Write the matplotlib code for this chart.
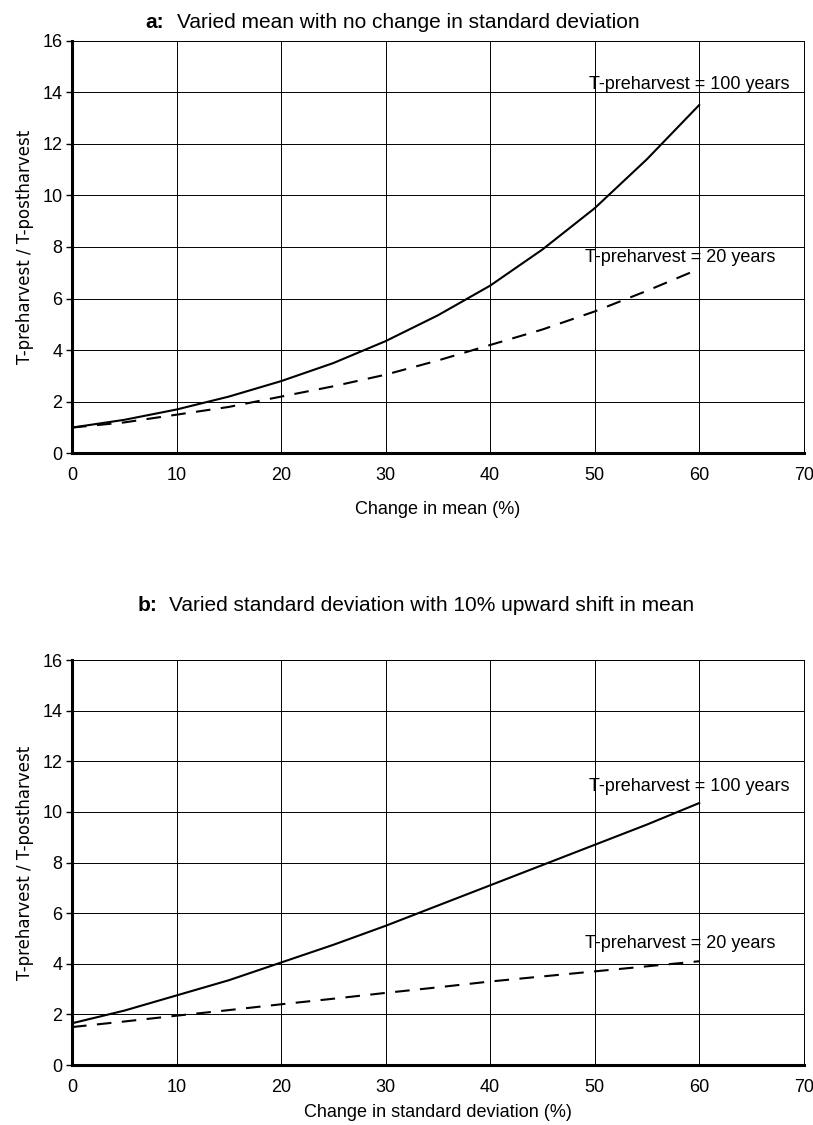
import matplotlib
matplotlib.use('Agg')
import matplotlib.pyplot as plt

plt.rcParams['font.family'] = ['Liberation Sans', 'DejaVu Sans']

# Data
change_pct = [0, 5, 10, 15, 20, 25, 30, 35, 40, 45, 50, 55, 60]

# panel a: varied mean, no change in SD
mean_100yr = [1.0, 1.3, 1.7, 2.2, 2.8, 3.5, 4.35, 5.35, 6.5, 7.9, 9.5, 11.4, 13.5]
mean_20yr = [1.0, 1.2, 1.5, 1.8, 2.2, 2.6, 3.05, 3.6, 4.2, 4.8, 5.5, 6.3, 7.15]

# panel b: varied SD, 10% upward shift in mean
sd_100yr = [1.65, 2.15, 2.75, 3.35, 4.05, 4.75, 5.5, 6.3, 7.1, 7.9, 8.7, 9.5, 10.35]
sd_20yr = [1.5, 1.72, 1.95, 2.17, 2.4, 2.62, 2.85, 3.07, 3.3, 3.5, 3.7, 3.9, 4.1]

x_ticks = [0, 10, 20, 30, 40, 50, 60, 70]
y_ticks = [0, 2, 4, 6, 8, 10, 12, 14, 16]

fig = plt.figure(figsize=(8.13, 11.25), dpi=100)
ax_a = fig.add_axes([0.0886, 0.597, 0.9, 0.367])
ax_b = fig.add_axes([0.0886, 0.0533, 0.9, 0.36])

panels = [
    (ax_a, mean_100yr, mean_20yr, 'Change in mean (%)', 14.3, 7.6),
    (ax_b, sd_100yr, sd_20yr, 'Change in standard deviation (%)', 11.0, 4.8),
]

for ax, solid, dashed, xlab, y100, y20 in panels:
    ax.plot(change_pct, solid, color='black', lw=1.5)
    ax.plot(change_pct, dashed, color='black', lw=1.5, ls=(0, (7, 5)))
    ax.set_xlim(0, 70)
    ax.set_ylim(0, 16)
    ax.set_xticks(x_ticks)
    ax.set_yticks(y_ticks)
    ax.grid(True, color='black', lw=0.7)
    ax.set_axisbelow(True)
    for side in ['top', 'right']:
        ax.spines[side].set_linewidth(0.7)
    for side in ['left', 'bottom']:
        ax.spines[side].set_linewidth(2.2)
    ax.tick_params(axis='y', length=4, width=1, labelsize=13, pad=3)
    ax.tick_params(axis='x', length=0, labelsize=13, pad=10)
    ax.set_xlabel(xlab, fontsize=13)
    ax.set_ylabel('T-preharvest / T-postharvest', fontsize=12, family='DejaVu Sans', labelpad=6)

    ax.text(59, y100, 'T-preharvest = 100 years', ha='center', va='center', fontsize=13)
    ax.text(58.2, y20, 'T-preharvest = 20 years', ha='center', va='center', fontsize=13)

ax_a.xaxis.set_label_coords(0.5, -0.115)
ax_b.xaxis.set_label_coords(0.5, -0.095)

# titles: bold panel letter + regular text
fig.text(0.0886 + 0.9 * 0.100, 0.980, 'a:', fontsize=15, fontweight='bold', ha='left', va='center')
fig.text(0.0886 + 0.9 * 0.144, 0.980, 'Varied mean with no change in standard deviation',
         fontsize=15, ha='left', va='center')
fig.text(0.0886 + 0.9 * 0.089, 0.462, 'b:', fontsize=15, fontweight='bold', ha='left', va='center')
fig.text(0.0886 + 0.9 * 0.133, 0.462, 'Varied standard deviation with 10% upward shift in mean',
         fontsize=15, ha='left', va='center')

fig.savefig('out.png', dpi=100)
